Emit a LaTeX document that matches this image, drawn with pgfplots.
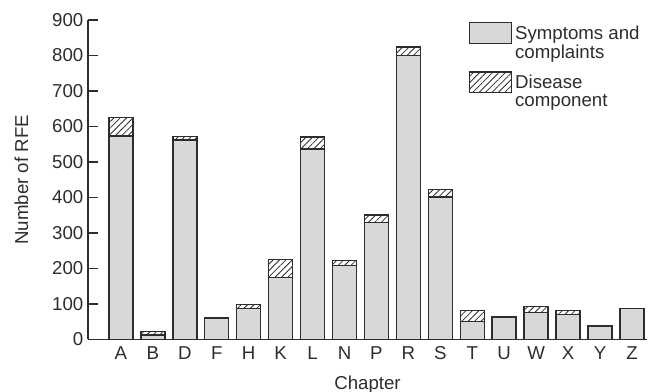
\documentclass[border=0pt]{standalone}
\usepackage{fontspec}
\setmainfont{Liberation Sans}
\usepackage{pgfplots}
\usepackage{pgfplotstable}
\pgfplotsset{compat=1.18}
\usetikzlibrary{patterns.meta}
\definecolor{ink}{RGB}{45,45,45}
\definecolor{stip}{RGB}{216,216,216}

\pgfplotstableread{
x sym dis
0 573 53
1 13 10
2 562 10
3 61 0
4 88 11
5 174 52
6 537 33
7 208 14
8 330 21
9 800 24
10 401 21
11 51 30
12 63 0
13 76 17
14 70 11
15 38 0
16 87 0
}\datatab

\begin{document}
\begin{tikzpicture}
\path[use as bounding box] (0,0) rectangle (486.75pt,294pt);
\begin{axis}[
 at={(66pt,39.375pt)}, anchor=south west,
 scale only axis, width=419.25pt, height=239.625pt,
 ybar stacked, bar width=18pt,
 xmin=-1.03, xmax=16.47, ymin=0, ymax=900,
 axis lines*=left,
 axis line style={ink, line width=1.1pt},
 ytick={0,100,...,900},
 xtick={0,...,16},
 xticklabels={A,B,D,F,H,K,L,N,P,R,S,T,U,W,X,Y,Z},
 tick align=inside,
 major tick length=7.5pt,
 ytick style={ink, line width=1.1pt},
 xtick style={draw=none},
 tick label style={font=\fontsize{14}{14}\selectfont, text=ink},
 /pgf/number format/assume math mode=true,
 xticklabel style={yshift=-2pt},
 xlabel={Chapter}, ylabel={Number of RFE},
 label style={font=\fontsize{14}{14}\selectfont, text=ink},
 xlabel style={at={(axis description cs:0.5,-0.155)}, anchor=base},
 ylabel style={at={(axis description cs:-0.107,0.5)}, anchor=base},
 legend style={at={(axis description cs:0.6816,0.9937)}, anchor=north west, draw=none, fill=none, inner sep=0pt, outer sep=0pt, column sep=0pt, row sep=20pt, font=\fontsize{14}{13.8}\selectfont, text=ink, cells={anchor=base west}},
 legend image code/.code={\draw[#1] (0pt,-3.5pt) rectangle (31.5pt,12.2pt);},
]
\addplot[fill=stip, draw=ink, line width=1.1pt] table[x=x,y=sym]{\datatab};
\addplot[fill=white, draw=ink, line width=1.1pt, postaction={pattern={Lines[angle=45,distance=3.4pt,line width=0.6pt]}, pattern color=ink}] table[x=x,y=dis]{\datatab};
\legend{{\begin{tabular}[t]{@{}l@{}}Symptoms and\\complaints\end{tabular}}, {\begin{tabular}[t]{@{}l@{}}Disease\\component\end{tabular}}}
\end{axis}
\end{tikzpicture}
\end{document}
